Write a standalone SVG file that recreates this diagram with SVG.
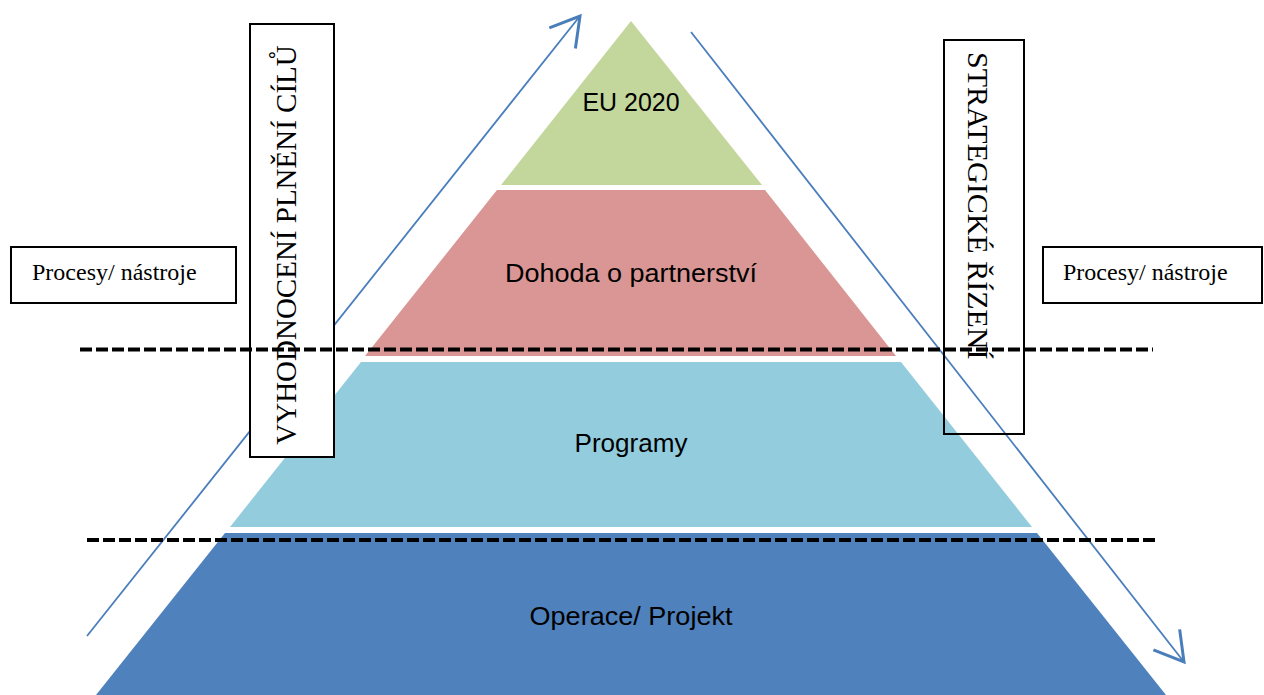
<svg xmlns="http://www.w3.org/2000/svg" width="1264" height="695" viewBox="0 0 1264 695">
<style>
.lvl{font-family:"Liberation Sans",Arial,sans-serif;font-size:26px;fill:#000;text-anchor:middle}
.serif{font-family:"Liberation Serif","Times New Roman",serif;fill:#000}
.box{stroke:#000;stroke-width:2}
.flow{stroke:#4a7ebb;stroke-width:1.8;fill:none}
.dash{stroke:#000;stroke-width:4;stroke-dasharray:12 4;fill:none}
</style>
<defs>
<marker id="openArrow" markerUnits="userSpaceOnUse" markerWidth="40" markerHeight="40" viewBox="-20 -12 22 24" refX="0" refY="0" orient="auto">
<path d="M-17,-10 L0,0 L-17,10" fill="none" stroke="#4a7ebb" stroke-width="1.8"/>
</marker>
</defs>
<g id="level-eu2020">
<polygon points="631,21 762,185 501,185" fill="#c3d69b"/>
<text class="lvl" x="631" y="111" textLength="97" lengthAdjust="spacingAndGlyphs">EU 2020</text>
</g>
<g id="level-dohoda">
<polygon points="497,190 765,190 896,356 365,356" fill="#d99694"/>
<text class="lvl" x="631" y="282" textLength="252" lengthAdjust="spacingAndGlyphs">Dohoda o partnerství</text>
</g>
<g id="level-programy">
<polygon points="361,362 901,362 1032,527 230,527" fill="#93cddd"/>
<text class="lvl" x="631" y="452" textLength="113" lengthAdjust="spacingAndGlyphs">Programy</text>
</g>
<g id="level-operace">
<polygon points="225,533 1037,533 1166,695 96,695" fill="#4f81bd"/>
<text class="lvl" x="631" y="625" textLength="203" lengthAdjust="spacingAndGlyphs">Operace/ Projekt</text>
</g>
<g id="connectors">
<line class="flow" x1="87" y1="636" x2="580" y2="16" marker-end="url(#openArrow)"/>
<line class="flow" x1="691" y1="32" x2="1184" y2="662" marker-end="url(#openArrow)"/>
</g>
<g id="box-vyhodnoceni">
<rect class="box" x="250" y="24" width="84" height="433" fill="#fff"/>
<text class="serif" font-size="29" transform="translate(296,245) rotate(-90)" text-anchor="middle">VYHODNOCENÍ PLNĚNÍ CÍLŮ</text>
</g>
<g id="box-strategicke">
<rect class="box" x="944" y="40" width="80" height="394" fill="none"/>
<text class="serif" font-size="30" transform="translate(968,52) rotate(90)" text-anchor="start">STRATEGICKÉ ŘÍZENÍ</text>
</g>
<g id="box-procesy-left">
<rect class="box" x="11" y="247" width="225" height="56" fill="#fff" stroke-width="2.5"/>
<text class="serif" font-size="24" x="32" y="280">Procesy/ nástroje</text>
</g>
<g id="box-procesy-right">
<rect class="box" x="1043" y="247" width="219" height="56" fill="#fff"/>
<text class="serif" font-size="24" x="1063" y="280">Procesy/ nástroje</text>
</g>
<g id="dividers">
<line class="dash" x1="80" y1="349.5" x2="1153" y2="349.5"/>
<line class="dash" x1="87" y1="540" x2="1155" y2="540"/>
</g>
</svg>
